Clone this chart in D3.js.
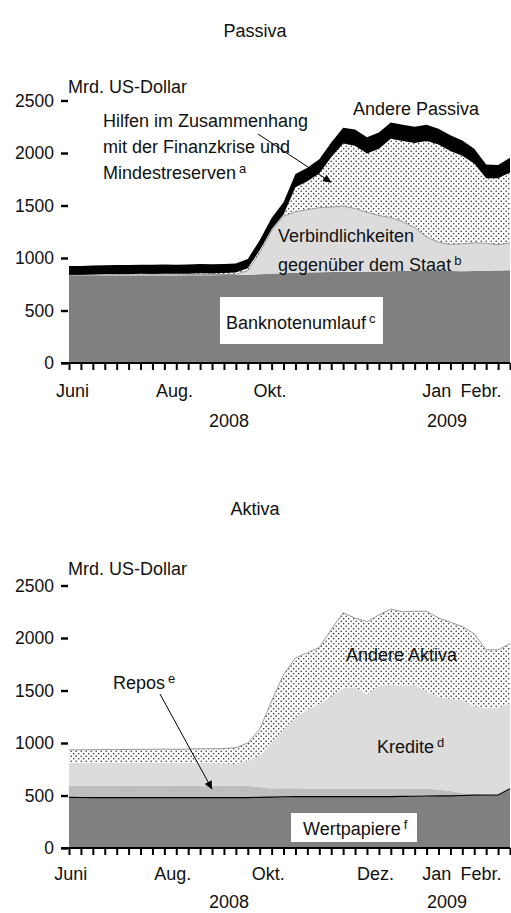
<!DOCTYPE html>
<html>
<head>
<meta charset="utf-8">
<script src="https://cdn.jsdelivr.net/npm/d3@7"></script>
<style>
  body { margin: 0; background: #fff; }
  text { font-family: "Liberation Sans", Arial, sans-serif; fill: #111; }
</style>
</head>
<body>
<svg id="chart"></svg>
<script>
// weekly balance sheet dates (Wednesdays), June 2008 - Feb 2009
const dates = d3.timeWednesday.range(new Date(2008, 5, 4), new Date(2009, 1, 19));

// Passiva, Mrd. US-Dollar
const banknoten = [828,829,830,831,831,832,833,833,834,834,835,836,836,837,838,840,845,850,855,860,862,864,866,868,868,870,872,875,878,882,884,880,877,875,876,878,880,883];
const staat = [6,6,6,6,6,6,6,6,6,6,6,6,6,6,6,40,205,410,545,580,598,616,619,627,602,565,533,510,467,408,316,270,253,260,269,262,245,262];
const hilfen = [4,3,5,8,9,8,10,9,11,9,10,13,11,14,17,23,25,15,15,235,270,325,475,595,600,560,635,750,770,805,915,930,890,840,755,620,635,670];
const anderePassiva = [87,87,87,87,87,87,87,87,87,87,87,87,87,87,87,87,95,105,115,125,130,135,140,150,155,155,155,155,155,155,155,150,150,145,140,130,125,140];

// Aktiva, Mrd. US-Dollar
const wertpapiere = [482,481,480,480,479,479,479,479,479,479,479,479,479,479,479,480,482,485,488,489,489,489,489,489,489,489,489,490,491,493,495,496,497,500,503,505,505,565];
const repos = [112,112,113,114,113,112,113,114,113,112,112,113,112,113,115,110,100,82,80,79,78,78,78,78,78,78,78,77,76,74,70,60,45,25,10,5,3,3];
const kredite = [217,217,217,218,219,219,220,219,219,219,221,218,217,213,206,240,298,433,562,672,753,803,873,958,963,895,973,988,973,988,925,884,878,885,837,820,827,812];
const andereAktiva = [123,125,126,126,127,128,128,128,131,130,130,135,137,143,155,170,250,400,520,570,540,540,640,715,660,693,680,720,710,700,765,750,730,700,690,557,552,565];

const yTicks = [0, 500, 1000, 1500, 2000, 2500];
const monthsTop = ["Juni", "Aug.", "Okt.", "Jan", "Febr."];
const monthsTopAt = ["2008-06-06", "2008-08-05", "2008-09-30", "2009-01-06", "2009-02-01"];
const monthsBottom = ["Juni", "Aug.", "Okt.", "Dez.", "Jan", "Febr."];
const monthsBottomAt = ["2008-06-05", "2008-08-04", "2008-09-29", "2008-12-01", "2009-01-06", "2009-02-01"];
const years = ["2008", "2009"];
const yearsAt = ["2008-09-06", "2009-01-12"];

const width = 511, height = 913;
const parse = d3.timeParse('%Y-%m-%d');
const svg = d3.select('#chart').attr('width', width).attr('height', height);
svg.append('rect').attr('width', width).attr('height', height).attr('fill', '#fff');

const x = d3.scaleTime().domain(d3.extent(dates)).range([69, 510]);

const defs = svg.append('defs');
const pat = defs.append('pattern').attr('id', 'dots')
  .attr('width', 5).attr('height', 5).attr('patternUnits', 'userSpaceOnUse');
pat.append('rect').attr('width', 5).attr('height', 5).attr('fill', '#fff');
pat.append('circle').attr('cx', 1.2).attr('cy', 1.2).attr('r', 0.75).attr('fill', '#222');
pat.append('circle').attr('cx', 3.7).attr('cy', 3.7).attr('r', 0.75).attr('fill', '#222');
defs.append('marker').attr('id', 'arrow')
  .attr('viewBox', '0 0 10 10').attr('refX', 10).attr('refY', 5)
  .attr('markerUnits', 'userSpaceOnUse').attr('markerWidth', 11).attr('markerHeight', 8)
  .attr('orient', 'auto')
  .append('path').attr('d', 'M0,0L10,5L0,10z').attr('fill', '#000');

function label(x0, y0, str, sup, anchor) {
  const t = svg.append('text').attr('x', x0).attr('y', y0)
    .attr('font-size', 18).attr('text-anchor', anchor || 'start').text(str);
  if (sup) t.append('tspan').attr('dx', 3).attr('dy', -6).attr('font-size', 13).text(sup);
  return t;
}

function panel(y0, keys, cols, fills) {
  const y = d3.scaleLinear().domain([0, 2500]).range([y0, y0 - 262.5]);
  const rows = dates.map((d, i) => {
    const r = { date: d };
    keys.forEach((k, j) => r[k] = cols[j][i]);
    return r;
  });
  const series = d3.stack().keys(keys)(rows);
  const area = d3.area().x(d => x(d.data.date)).y0(d => y(d[0])).y1(d => y(d[1]));
  const g = svg.append('g');
  g.selectAll('path.layer').data(series).join('path')
    .attr('class', 'layer')
    .attr('d', area)
    .attr('fill', (d, i) => fills[i]);

  // x axis with weekly ticks
  const xa = svg.append('g').attr('transform', `translate(0,${y0})`)
    .call(d3.axisBottom(x).tickValues(dates).tickSize(7).tickSizeOuter(0).tickFormat(''));
  xa.select('.domain').remove();
  xa.selectAll('.tick line').attr('stroke', '#000').attr('stroke-width', 2);
  svg.append('line').attr('x1', 61).attr('x2', 510).attr('y1', y0).attr('y2', y0)
    .attr('stroke', '#000').attr('stroke-width', 2);

  // y axis, only tick dashes and numbers
  const ya = svg.append('g').attr('transform', 'translate(68,0)')
    .call(d3.axisLeft(y).tickValues(yTicks).tickSize(7).tickPadding(7).tickFormat(d3.format('d')));
  ya.select('.domain').remove();
  ya.selectAll('.tick line').attr('stroke', '#000').attr('stroke-width', 2.4);
  ya.selectAll('.tick text').attr('font-size', 17.5).attr('font-family', '"Liberation Sans", Arial, sans-serif').attr('fill', '#111');
  return { y, series };
}

// ---------- Passiva ----------
const passiva = panel(363, ['banknoten', 'staat', 'hilfen', 'andere'],
  [banknoten, staat, hilfen, anderePassiva],
  ['#808080', '#dcdcdc', 'url(#dots)', '#000']);
svg.append('path').datum(passiva.series[1])
  .attr('d', d3.line().x(d => x(d.data.date)).y(d => passiva.y(d[1])))
  .attr('fill', 'none').attr('stroke', '#9a9a9a').attr('stroke-width', 1);

label(255, 37, 'Passiva', null, 'middle');
label(68, 93, 'Mrd. US-Dollar');
label(353, 115, 'Andere Passiva');
label(103, 127, 'Hilfen im Zusammenhang');
label(103, 153, 'mit der Finanzkrise und');
label(103, 179, 'Mindestreserven', 'a');
svg.append('line').attr('x1', 258).attr('y1', 134)
  .attr('x2', x(parse('2008-11-05'))).attr('y2', passiva.y(1720))
  .attr('stroke', '#000').attr('stroke-width', 1).attr('marker-end', 'url(#arrow)');
label(278, 242, 'Verbindlichkeiten');
label(278, 271, 'gegenüber dem Staat', 'b');
svg.append('rect').attr('x', 220).attr('y', 297).attr('width', 163).attr('height', 47).attr('fill', '#fff');
label(226, 329, 'Banknotenumlauf', 'c');
monthsTop.forEach((m, i) => label(x(parse(monthsTopAt[i])), 397, m, null, 'middle'));
years.forEach((m, i) => label(x(parse(yearsAt[i])), 427, m, null, 'middle'));

// ---------- Aktiva ----------
const aktiva = panel(848, ['wertpapiere', 'repos', 'kredite', 'andere'],
  [wertpapiere, repos, kredite, andereAktiva],
  ['#808080', '#bdbdbd', '#dcdcdc', 'url(#dots)']);
svg.append('path').datum(aktiva.series[3])
  .attr('d', d3.line().x(d => x(d.data.date)).y(d => aktiva.y(d[1])))
  .attr('fill', 'none').attr('stroke', '#9a9a9a').attr('stroke-width', 1);
svg.append('path').datum(aktiva.series[0])
  .attr('d', d3.line().x(d => x(d.data.date)).y(d => aktiva.y(d[1])))
  .attr('fill', 'none').attr('stroke', '#000').attr('stroke-width', 1.2);

label(255, 515, 'Aktiva', null, 'middle');
label(68, 575, 'Mrd. US-Dollar');
label(346, 661, 'Andere Aktiva');
label(113, 689, 'Repos', 'e');
svg.append('line').attr('x1', 160).attr('y1', 694)
  .attr('x2', x(parse('2008-08-27'))).attr('y2', aktiva.y(560))
  .attr('stroke', '#000').attr('stroke-width', 1).attr('marker-end', 'url(#arrow)');
label(377, 753, 'Kredite', 'd');
svg.append('rect').attr('x', 291).attr('y', 813).attr('width', 126).attr('height', 29).attr('fill', '#fff');
label(303, 835, 'Wertpapiere', 'f');
monthsBottom.forEach((m, i) => label(x(parse(monthsBottomAt[i])), 880, m, null, 'middle'));
years.forEach((m, i) => label(x(parse(yearsAt[i])), 908, m, null, 'middle'));
</script>
</body>
</html>
